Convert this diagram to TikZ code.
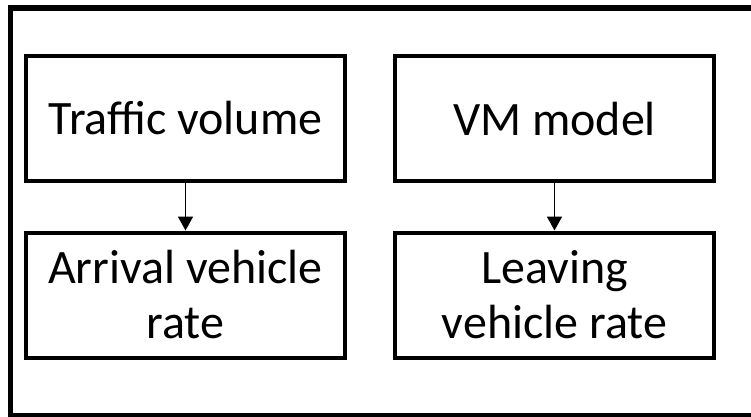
\documentclass[tikz,border=0pt]{standalone}
\usepackage{fontspec}
\setmainfont{Carlito}
\usetikzlibrary{arrows.meta}
\begin{document}
\begin{tikzpicture}[x=1pt,y=-1pt,
  block/.style={draw=black, line width=4pt, minimum width=319pt, minimum height=125pt,
    inner sep=0pt, align=center, font=\fontsize{48}{55}\selectfont},
  frame/.style={draw=black, line width=5.5pt},
  link/.style={draw=black, line width=1.8pt, -{Triangle[length=14pt,width=15pt]}}]
\useasboundingbox (0,0) rectangle (751,416);
\clip (0,0) rectangle (751,416);
% enclosing frame, running past the right and lower edges
\coordinate (frameNW) at (10.5,8);
\coordinate (frameSE) at (780,415.5);
\draw[frame] (frameNW) rectangle (frameSE);
% blocks
\node[block] (traffic) at (185.5,118.5) {Traffic volume};
\node[block] (vm) at (554.5,118.5) {VM model};
\node[block] (arrival) at (185.5,295) {Arrival vehicle\\rate};
\node[block] (leaving) at (554.5,295) {Leaving\\vehicle rate};
% links
\draw[link] (traffic.south) -- (arrival.north);
\draw[link] (vm.south) -- (leaving.north);
\end{tikzpicture}
\end{document}
